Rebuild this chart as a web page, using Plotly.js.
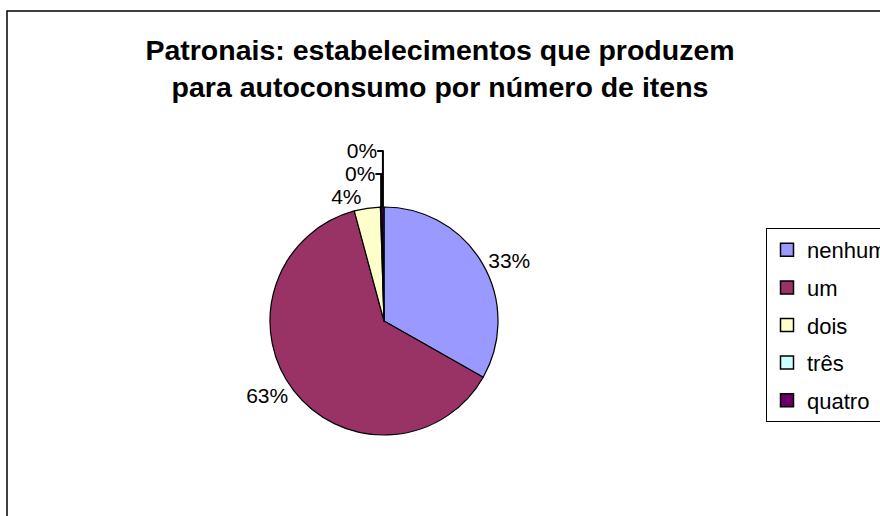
<!DOCTYPE html>
<html>
<head>
<meta charset="utf-8">
<script src="https://cdn.plot.ly/plotly-3.0.1.min.js"></script>
<style>
html,body{margin:0;padding:0;background:#fff;}
#chart{width:880px;height:516px;}
</style>
</head>
<body>
<div id="chart"></div>
<script>
// Data
const categories = ["nenhum", "um", "dois", "três", "quatro"];
const shares = [33.2, 62.6, 3.7, 0.2, 0.3];
const sliceColors = ["#9999FF", "#993366", "#FFFFCC", "#CCFFFF", "#660066"];
const chartTitle = "Patronais: estabelecimentos que produzem<br>para autoconsumo por número de itens";

const W = 880, H = 516;
const font = "Liberation Sans, Arial, sans-serif";

// pie geometry (pixels)
const cx = 384, cy = 321, r = 114;

const traces = [{
  type: "pie",
  labels: categories,
  values: shares,
  sort: false,
  direction: "clockwise",
  rotation: 0,
  showlegend: false,
  marker: {colors: sliceColors, line: {color: "#000", width: 1.2}},
  texttemplate: "%{percent:.0%}",
  textposition: "outside",
  textfont: {family: font, size: 21, color: "#000"},
  hoverinfo: "none",
  domain: {
    x: [(cx - r) / W, (cx + r) / W],
    y: [1 - (cy + r) / H, 1 - (cy - r) / H]
  }
}];

// legend entries (one per category)
categories.forEach((c, i) => {
  traces.push({
    type: "scatter", x: [null], y: [null], mode: "markers",
    name: c, legendgroup: c, showlegend: true, hoverinfo: "none",
    marker: {symbol: "square", size: 13, color: sliceColors[i], line: {color: "#000", width: 1.5}}
  });
});

const legendFont = 22;
const layout = {
  width: W, height: H,
  margin: {l: 0, r: 0, t: 0, b: 0, autoexpand: false},
  paper_bgcolor: "#fff",
  plot_bgcolor: "rgba(0,0,0,0)",
  font: {family: font, color: "#000"},
  xaxis: {visible: false},
  yaxis: {visible: false},
  title: {
    text: chartTitle,
    font: {family: font, size: 28.5, weight: "bold", color: "#000"},
    x: 0.5, xanchor: "center",
    y: 1 - 60 / H, yanchor: "top"
  },
  showlegend: true,
  legend: {
    x: 766 / W, xanchor: "left",
    y: 1 - 228 / H, yanchor: "top",
    bordercolor: "#000", borderwidth: 1,
    bgcolor: "#fff",
    font: {family: font, size: legendFont, color: "#000"},
    traceorder: "grouped",
    tracegroupgap: 6
  },
  shapes: [{
    type: "rect", xref: "paper", yref: "paper",
    x0: 7 / W, x1: 1.2, y0: -0.2, y1: 1 - 11 / H,
    line: {color: "#000", width: 1.5}, fillcolor: "rgba(0,0,0,0)", layer: "below"
  }]
};

Plotly.newPlot("chart", traces, layout, {staticPlot: true, displayModeBar: false});
</script>
</body>
</html>
